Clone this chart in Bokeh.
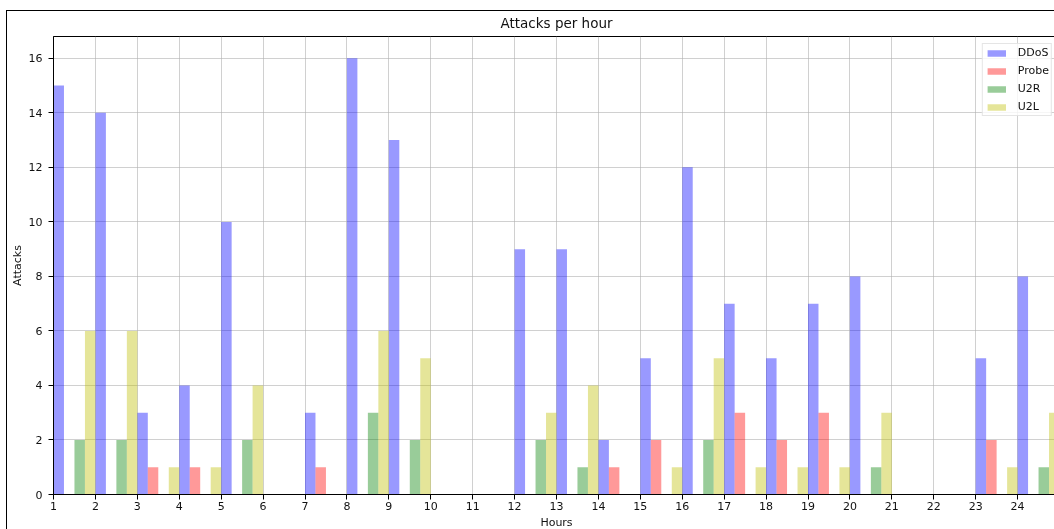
from bokeh.plotting import figure
from bokeh.models import Range1d, ColumnDataSource, FixedTicker
from bokeh.embed import file_html
from bokeh.resources import INLINE

hours = list(range(1, 25))
ddos  = [15, 14, 3, 4, 10, 0, 3, 16, 13, 0, 0, 9, 9, 2, 5, 12, 7, 5, 7, 8, 0, 0, 5, 8]
probe = [0, 0, 1, 1, 0, 0, 1, 0, 0, 0, 0, 0, 0, 1, 2, 0, 3, 2, 3, 0, 0, 0, 2, 0]
u2r   = [2, 2, 0, 0, 2, 0, 0, 3, 2, 0, 0, 2, 1, 0, 0, 2, 0, 0, 0, 1, 0, 0, 0, 1]
u2l   = [6, 6, 1, 1, 4, 0, 0, 6, 5, 0, 0, 3, 4, 0, 1, 5, 1, 1, 1, 3, 0, 0, 1, 3]
series = [("DDoS", ddos, "blue"), ("Probe", probe, "red"),
          ("U2R", u2r, "green"), ("U2L", u2l, "#bfbf00")]
y_ticks = [0, 2, 4, 6, 8, 10, 12, 14, 16]

FONT = "DejaVu Sans"
bar_w = 0.25

p = figure(width=1067, height=535, output_backend="svg", toolbar_location=None,
           x_range=Range1d(1, 25), y_range=Range1d(0, 16.8),
           title="Attacks per hour",
           min_border_left=51, min_border_top=30, min_border_bottom=47, min_border_right=10)
p.styles = {"position": "fixed", "left": "2px", "top": "6px",
            "outline": "1.5px solid black", "outline-offset": "-5px"}

for i, (name, vals, col) in enumerate(series):
    src = ColumnDataSource(dict(x=[h + bar_w * i + bar_w / 2 for h in hours], top=vals))
    p.vbar(x="x", top="top", width=bar_w, source=src, fill_color=col, fill_alpha=0.4,
           line_color=None, legend_label=name)

p.title.text_font = FONT
p.title.text_font_size = "13.5px"
p.title.text_font_style = "normal"
p.title.align = "center"
p.title.standoff = 12
p.title.text_color = "#111111"

p.outline_line_color = "black"
p.outline_line_width = 1
p.border_fill_alpha = 0
p.background_fill_color = "white"

for ax in (p.xaxis[0], p.yaxis[0]):
    ax.axis_line_color = "black"
    ax.axis_line_width = 1
    ax.major_tick_line_color = "black"
    ax.major_tick_out = 5
    ax.major_tick_in = 0
    ax.minor_tick_line_color = None
    ax.major_label_text_font = FONT
    ax.major_label_text_font_size = "11px"
    ax.major_label_text_color = "#111111"
    ax.axis_label_text_font = FONT
    ax.axis_label_text_font_size = "11px"
    ax.axis_label_text_font_style = "normal"
    ax.axis_label_text_color = "#111111"

p.xaxis.ticker = FixedTicker(ticks=hours)
p.yaxis.ticker = FixedTicker(ticks=y_ticks)
p.xaxis.axis_label = "Hours"
p.yaxis.axis_label = "Attacks"
p.xaxis.major_label_standoff = 2
p.xaxis.axis_label_standoff = 3
p.yaxis.major_label_standoff = 6
p.yaxis.axis_label_standoff = 2

p.xgrid.grid_line_color = "#b0b0b0"
p.ygrid.grid_line_color = "#b0b0b0"
p.xgrid.grid_line_width = 1
p.ygrid.grid_line_width = 1
p.xgrid.grid_line_alpha = 0.6
p.ygrid.grid_line_alpha = 0.6

lg = p.legend[0]
lg.location = "top_right"
lg.margin = 7
lg.padding = 2
lg.spacing = 5
lg.glyph_width = 23
lg.glyph_height = 8
lg.label_height = 12
lg.label_standoff = 10
lg.label_text_font = FONT
lg.label_text_font_size = "11px"
lg.label_text_color = "#111111"
lg.border_line_color = "#cccccc"
lg.border_line_width = 1
lg.background_fill_alpha = 0.8

open("out.html", "w").write(file_html(p, INLINE))
